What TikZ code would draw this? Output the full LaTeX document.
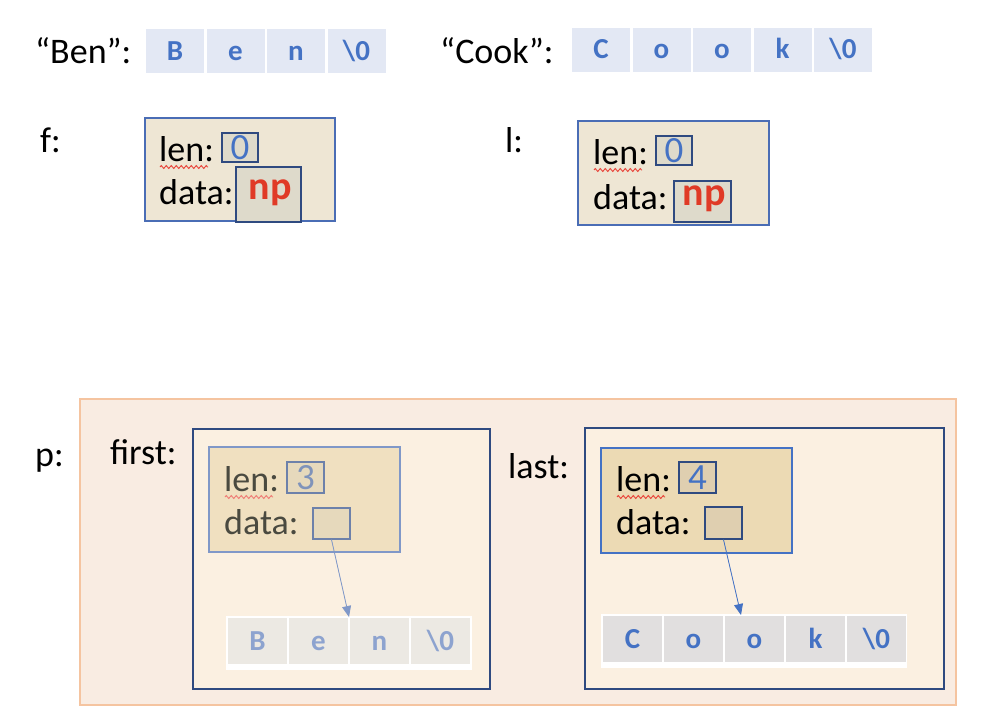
\documentclass[tikz,border=0pt]{standalone}
\usepackage{fontspec}
\setmainfont{Carlito}
\usetikzlibrary{arrows.meta,decorations.pathmorphing}
\definecolor{cellfill}{HTML}{E3E8F4}
\definecolor{cellink}{HTML}{4472C4}
\definecolor{structfill}{HTML}{EEE6D4}
\definecolor{structline}{HTML}{4A6DB5}
\definecolor{slotfill}{HTML}{DEDACB}
\definecolor{slotline}{HTML}{2F4A80}
\definecolor{npred}{HTML}{E03A26}
\definecolor{pairfill}{HTML}{F9ECE2}
\definecolor{pairline}{HTML}{F5C4A0}
\definecolor{fieldfill}{HTML}{FBF0E1}
\definecolor{fadefill}{HTML}{F0E0C0}
\definecolor{fadeline}{HTML}{8098C8}
\definecolor{fadeslot}{HTML}{E6D9BC}
\definecolor{fadetext}{HTML}{4A4A40}
\definecolor{fadecell}{HTML}{ECE9E3}
\definecolor{fadeink}{HTML}{8DA3CF}
\definecolor{lastfill}{HTML}{ECDAB4}
\definecolor{lastslot}{HTML}{DFCFB0}
\definecolor{greycell}{HTML}{E1DFDF}
\definecolor{squig}{HTML}{E8443A}
\tikzset{
  lbl/.style={anchor=base west, inner sep=0pt, font=\fontsize{36}{42}\selectfont},
  charcell/.style={draw=none, fill=cellfill, inner sep=0pt, text=cellink,
    font=\fontsize{29}{33}\selectfont\bfseries, text height=18pt, text depth=0pt,
    minimum width=58pt, minimum height=44pt},
  box/.style={rectangle, inner sep=0pt},
  slot/.style={box, fill=slotfill, draw=slotline, line width=1.3pt},
  digit/.style={font=\fontsize{37}{40}\selectfont},
  nptext/.style={font=\fontsize{40}{44}\selectfont\bfseries, text=npred},
  squiggle/.style={draw=squig, line width=0.9pt,
    decorate, decoration={zigzag, segment length=5pt, amplitude=1.5pt}},
  ptr/.style={line width=0.8pt, -{Triangle[width=9pt,length=11pt]}},
}
\begin{document}
\begin{tikzpicture}[x=1pt,y=-1pt]
\useasboundingbox (0,0) rectangle (994,728);
\fill[white] (0,0) rectangle (994,728);

% string literals
\node[lbl] (benlbl) at (35,63) {“Ben”:};
\foreach \c [count=\i] in {B,e,n,\textbackslash0}
  \node[charcell] (tb\i) at ({146+29+(\i-1)*60.5},51) {\c};
\node[lbl] (cooklbl) at (440,63) {“Cook”:};
\foreach \c [count=\i] in {C,o,o,k,\textbackslash0}
  \node[charcell] (tc\i) at ({572+29+(\i-1)*60.5},49.5) {\c};

% struct f
\node[lbl] (flbl) at (40,152) {f:};
\node[box, fill=structfill, draw=structline, line width=1.2pt,
  minimum width=190pt, minimum height=103pt] (fbox) at (240,169.5) {};
\node[lbl] (flen) at (159,161) {len:};
\draw[squiggle] (160,167) -- (208,167);
\node[slot, minimum width=36pt, minimum height=29pt] (flenv) at (240,147.5) {};
\node[digit, text=cellink] at (240,148) {0};
\node[lbl] (fdata) at (159,204) {data:};
\node[slot, minimum width=65pt, minimum height=55pt] (fdatav) at (268.5,194.5) {};
\node[nptext] at (270,193) {np};

% struct l
\node[lbl] (llbl) at (505,152) {l:};
\node[box, fill=structfill, draw=structline, line width=1.2pt,
  minimum width=191pt, minimum height=104pt] (lbox) at (673.5,173) {};
\node[lbl] (llen) at (593,164) {len:};
\draw[squiggle] (594,170) -- (642,170);
\node[slot, minimum width=36pt, minimum height=29pt] (llenv) at (674,150.5) {};
\node[digit, text=cellink] at (674,151) {0};
\node[lbl] (ldata) at (593,209) {data:};
\node[slot, minimum width=57pt, minimum height=41pt] (ldatav) at (702.5,201.5) {};
\node[nptext] at (704,199) {np};

% pair p
\node[box, fill=pairfill, draw=pairline, line width=1.2pt,
  minimum width=876pt, minimum height=306pt] (pbox) at (518,552) {};
\node[lbl] (plbl) at (35,466) {p:};
\node[lbl] (firstlbl) at (110,464) {first:};
\node[box, fill=fieldfill, draw=slotline, line width=1.6pt,
  minimum width=297pt, minimum height=260pt] (firstbox) at (341.5,559) {};
\node[lbl] (lastlbl) at (508,478) {last:};
\node[box, fill=fieldfill, draw=slotline, line width=1.6pt,
  minimum width=359pt, minimum height=261pt] (lastbox) at (764.5,558.5) {};

% first: Ben
\node[box, fill=fadefill, draw=fadeline, line width=1.2pt,
  minimum width=191pt, minimum height=105pt] (fstruct) at (304.5,499.5) {};
\node[lbl, text=fadetext] (fslen) at (224,491) {len:};
\draw[squiggle, draw=squig!70] (225,497) -- (273,497);
\node[box, fill=fadeslot, draw=fadeline!85!black, line width=1.2pt,
  minimum width=37pt, minimum height=31pt] (fslenv) at (305.5,477.5) {};
\node[digit, text=fadeink!90!black] at (305.5,478) {3};
\node[lbl, text=fadetext] (fsdata) at (224,534) {data:};
\node[box, fill=fadeslot, draw=fadeline!85!black, line width=1.2pt,
  minimum width=37pt, minimum height=31pt] (fsdatav) at (331.5,523.5) {};
\fill[white] (226,616) rectangle (472,670);
\foreach \c [count=\i] in {B,e,n,\textbackslash0}
  \node[charcell, fill=fadecell, text=fadeink, minimum width=59pt, minimum height=46pt]
    (fb\i) at ({228+29.5+(\i-1)*61},641) {\c};
\coordinate (bentip) at (349,617);
\draw[ptr, draw=fadeline, fill=fadeline] (fsdatav.south) -- (bentip);

% last: Cook
\node[box, fill=lastfill, draw=cellink, line width=1.2pt,
  minimum width=191pt, minimum height=105pt] (lstruct) at (696.5,500.5) {};
\node[lbl] (lslen) at (616,491) {len:};
\draw[squiggle] (617,497) -- (665,497);
\node[box, fill=lastslot, draw=slotline, line width=1.2pt,
  minimum width=37pt, minimum height=31pt] (lslenv) at (697.5,477.5) {};
\node[digit, text=cellink] at (697.5,478) {4};
\node[lbl] (lsdata) at (616,534) {data:};
\node[box, fill=lastslot, draw=slotline, line width=1.2pt,
  minimum width=37pt, minimum height=32pt] (lsdatav) at (723.5,523) {};
\fill[white] (601,614) rectangle (907,668);
\foreach \c [count=\i] in {C,o,o,k,\textbackslash0}
  \node[charcell, fill=greycell, minimum width=59pt, minimum height=46pt]
    (lc\i) at ({603+29.5+(\i-1)*61},639) {\c};
\coordinate (cooktip) at (741,615);
\draw[ptr, draw=cellink, fill=cellink] (lsdatav.south) -- (cooktip);
\end{tikzpicture}
\end{document}
